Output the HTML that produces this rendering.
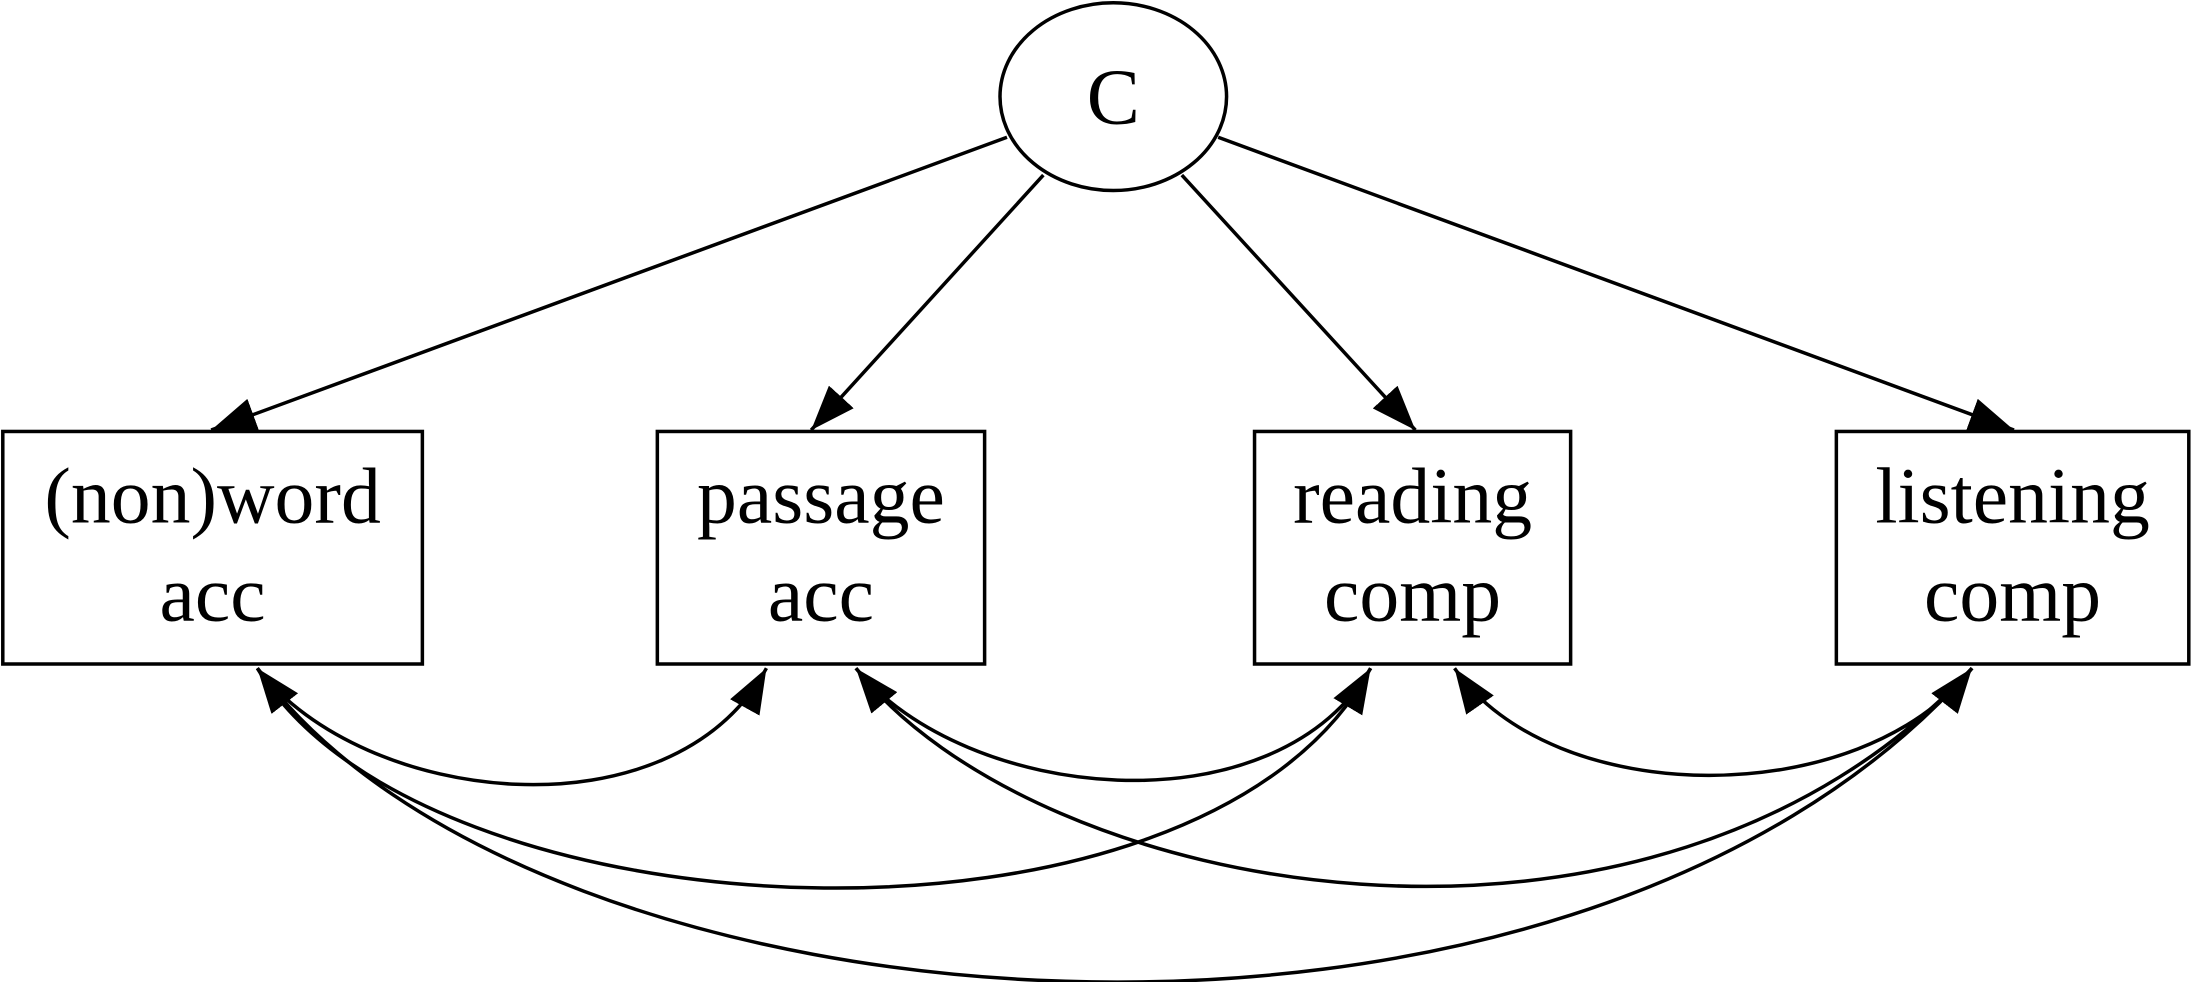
<!DOCTYPE html>
<html><head><meta charset="utf-8"><style>
html,body{margin:0;padding:0;background:#fff;}
svg{display:block;}
text{font-family:"Liberation Serif",serif;font-size:57px;fill:#000;text-anchor:middle;}
</style></head><body>
<svg width="2193" height="982" viewBox="0 0 1568 701" preserveAspectRatio="none" xmlns="http://www.w3.org/2000/svg">
<defs>
<marker id="a" markerUnits="userSpaceOnUse" markerWidth="32" markerHeight="24" viewBox="0 0 10 7.5" refX="10" refY="3.75" orient="auto-start-reverse">
<path d="M0,0 L10,3.75 L0,7.5 z" fill="#000"/>
</marker>
</defs>
<g fill="none" stroke="#000" stroke-width="2.5">
<ellipse cx="796" cy="69" rx="81" ry="67" fill="#fff"/>
<rect x="2" y="308" width="300" height="166"/>
<rect x="470" y="308" width="234" height="166"/>
<rect x="897" y="308" width="226" height="166"/>
<rect x="1313" y="308" width="252" height="166"/>
<line x1="720" y1="98" x2="151" y2="307" marker-end="url(#a)"/>
<line x1="746" y1="125" x2="580" y2="307" marker-end="url(#a)"/>
<line x1="845" y1="125" x2="1012" y2="307" marker-end="url(#a)"/>
<line x1="871" y1="98" x2="1440" y2="307" marker-end="url(#a)"/>
<path d="M184,477 C260,575 480,600 548,477" marker-start="url(#a)" marker-end="url(#a)"/>
<path d="M612,477 C690,572 910,595 980,477" marker-start="url(#a)" marker-end="url(#a)"/>
<path d="M1040,477 C1110,578 1330,580 1410,477" marker-start="url(#a)" marker-end="url(#a)"/>
<path d="M184,477 C300,672 860,700 980,477" />
<path d="M612,477 C740,640 1180,725 1410,477" />
<path d="M184,477 C380,745 1120,805 1410,477" />
</g>
<text x="796" y="88">C</text>
<text x="152" y="373">(non)word</text>
<text x="152" y="443">acc</text>
<text x="587" y="373">passage</text>
<text x="587" y="443">acc</text>
<text x="1010" y="373">reading</text>
<text x="1010" y="443">comp</text>
<text x="1439" y="373">listening</text>
<text x="1439" y="443">comp</text>
</svg>
</body></html>
